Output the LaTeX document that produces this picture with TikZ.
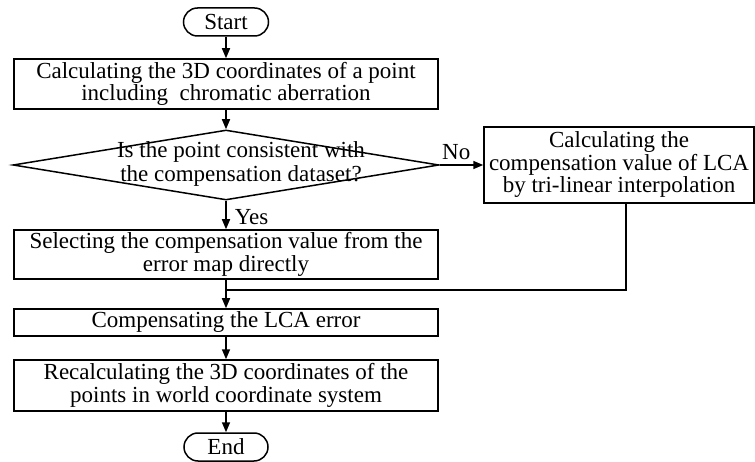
\documentclass[tikz,border=0pt]{standalone}
\usepackage{fontspec}
\setmainfont{Liberation Serif}
\usetikzlibrary{shapes.geometric,arrows.meta}
\begin{document}
\begin{tikzpicture}[x=1pt,y=-1pt,
  every node/.style={font=\fontsize{23}{22.5}\selectfont},
  box/.style={draw,line width=1.5pt,inner sep=0pt,align=center,rectangle},
  term/.style={draw,line width=1.5pt,inner sep=0pt,rounded corners=14pt,minimum width=85pt,minimum height=28pt},
  decision/.style={diamond,draw,line width=1.5pt,inner sep=0pt},
  arr/.style={line width=1.5pt,-{Triangle[length=10pt,width=8pt]}},
  ln/.style={line width=1.5pt}]
\useasboundingbox (0,0) rectangle (755,462);
\node[term] (start) at (226,22) {Start};
\node[box,minimum width=424pt,minimum height=50pt] (b1) at (226,84)
  {Calculating the 3D coordinates of a point\\including\ \ chromatic aberration};
\node[decision,minimum width=426pt,minimum height=70pt] (dec) at (226,165) {};
\node[align=center,inner sep=0pt,font=\fontsize{23}{24}\selectfont] (dect) at (241,164)
  {Is the point consistent with\\the compensation dataset?};
\node[box,minimum width=270pt,minimum height=76pt] (rb) at (619,165)
  {Calculating the\\compensation value of LCA\\by tri-linear interpolation};
\node[box,minimum width=424pt,minimum height=49pt] (b2) at (226,254.5)
  {Selecting the compensation value from the\\error map directly};
\node[box,minimum width=424pt,minimum height=27pt] (b3) at (226,322.5)
  {Compensating the LCA error};
\node[box,minimum width=424pt,minimum height=51pt] (b4) at (226,385.5)
  {Recalculating the 3D coordinates of the\\points in world coordinate system};
\node[term,minimum width=84pt] (end) at (226,447) {End};
\coordinate (j) at (226,290);
\draw[arr] (start) -- (b1);
\draw[arr] (b1) -- (dec);
\draw[arr] (dec.east) -- node[pos=0.38,anchor=south,inner sep=0pt,yshift=5pt] {No} (rb.west);
\draw[arr] (dec.south) -- node[pos=0.5,anchor=west,inner sep=0pt,xshift=8pt,yshift=-2pt] {Yes} (b2.north);
\draw[arr] (b2) -- (b3);
\draw[ln] ([xshift=7pt]rb.south) |- (j);
\draw[arr] (b3) -- (b4);
\draw[arr] (b4) -- (end);
\end{tikzpicture}
\end{document}
